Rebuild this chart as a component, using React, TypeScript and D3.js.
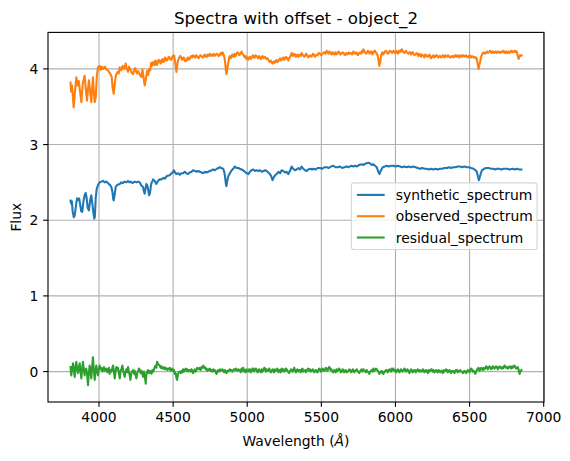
import * as d3 from "d3";

type Pt = [number, number];

// wavelength (Å), flux
const synthetic: Pt[] = [
  [3808,2.26],[3812,2.22],[3817,2.25],[3822,2.12],[3830,2.04],[3836,2.06],[3845,2.20],[3852,2.29],[3860,2.27],[3866,2.29],
  [3872,2.22],[3880,2.12],[3887,2.11],[3895,2.25],[3903,2.33],[3910,2.36],[3916,2.30],[3924,2.16],[3932,2.13],[3940,2.26],
  [3948,2.33],[3955,2.22],[3962,2.10],[3968,2.02],[3972,2.05],[3978,2.30],[3985,2.42],[3995,2.47],[4004,2.50],[4015,2.51],
  [4027,2.52],[4040,2.50],[4050,2.51],[4061,2.49],[4072,2.47],[4083,2.44],[4090,2.38],[4096,2.28],[4099,2.26],[4104,2.32],
  [4113,2.44],[4125,2.47],[4140,2.48],[4150,2.50],[4160,2.49],[4173,2.51],[4185,2.50],[4195,2.52],[4205,2.50],[4215,2.51],
  [4225,2.49],[4241,2.51],[4255,2.50],[4265,2.51],[4275,2.50],[4286,2.46],[4297,2.44],[4303,2.38],[4308,2.35],[4314,2.42],
  [4320,2.48],[4326,2.46],[4332,2.40],[4338,2.33],[4344,2.36],[4352,2.48],[4365,2.54],[4375,2.52],[4387,2.48],[4398,2.52],
  [4410,2.54],[4421,2.54],[4435,2.56],[4445,2.55],[4455,2.58],[4470,2.59],[4480,2.60],[4489,2.62],[4497,2.63],[4505,2.66],
  [4513,2.63],[4522,2.61],[4535,2.62],[4545,2.60],[4556,2.62],[4568,2.62],[4579,2.64],[4590,2.62],[4600,2.61],[4612,2.63],
  [4625,2.64],[4635,2.66],[4648,2.65],[4660,2.64],[4670,2.65],[4680,2.64],[4692,2.63],[4703,2.62],[4715,2.64],[4725,2.63],
  [4736,2.64],[4748,2.65],[4760,2.66],[4770,2.67],[4782,2.66],[4795,2.68],[4805,2.69],[4815,2.70],[4825,2.69],[4838,2.68],
  [4845,2.64],[4850,2.58],[4856,2.48],[4860,2.45],[4865,2.52],[4872,2.58],[4883,2.62],[4895,2.66],[4905,2.68],[4917,2.71],
  [4928,2.69],[4940,2.69],[4950,2.68],[4962,2.67],[4972,2.66],[4984,2.64],[4995,2.62],[5007,2.61],[5018,2.64],[5028,2.66],
  [5040,2.67],[5052,2.65],[5063,2.66],[5075,2.65],[5086,2.66],[5098,2.64],[5110,2.65],[5120,2.66],[5131,2.65],[5142,2.63],
  [5153,2.61],[5162,2.58],[5171,2.53],[5180,2.57],[5190,2.60],[5198,2.61],[5210,2.64],[5222,2.62],[5232,2.66],[5243,2.65],
  [5255,2.63],[5266,2.64],[5277,2.61],[5288,2.65],[5300,2.71],[5310,2.68],[5322,2.66],[5333,2.67],[5345,2.69],[5356,2.67],
  [5367,2.71],[5378,2.68],[5390,2.66],[5401,2.65],[5412,2.67],[5425,2.68],[5437,2.67],[5446,2.68],[5460,2.67],[5475,2.69],
  [5491,2.69],[5505,2.68],[5520,2.70],[5536,2.70],[5550,2.69],[5565,2.71],[5581,2.72],[5595,2.70],[5610,2.70],[5625,2.71],
  [5640,2.69],[5655,2.70],[5671,2.71],[5685,2.70],[5700,2.72],[5715,2.71],[5727,2.72],[5740,2.71],[5755,2.73],[5772,2.74],
  [5785,2.73],[5800,2.75],[5817,2.76],[5830,2.75],[5840,2.73],[5851,2.74],[5862,2.72],[5874,2.70],[5882,2.65],[5892,2.61],
  [5900,2.65],[5914,2.70],[5928,2.71],[5941,2.72],[5955,2.71],[5970,2.72],[5986,2.72],[6000,2.71],[6015,2.72],[6031,2.71],
  [6045,2.70],[6060,2.71],[6076,2.70],[6090,2.71],[6105,2.70],[6121,2.71],[6135,2.70],[6150,2.69],[6166,2.68],[6180,2.69],
  [6195,2.68],[6210,2.68],[6225,2.67],[6240,2.68],[6256,2.67],[6270,2.68],[6285,2.67],[6300,2.68],[6315,2.68],[6330,2.69],
  [6347,2.69],[6360,2.70],[6375,2.69],[6390,2.70],[6405,2.70],[6420,2.71],[6437,2.71],[6450,2.70],[6465,2.71],[6482,2.70],
  [6495,2.70],[6510,2.69],[6527,2.68],[6540,2.66],[6549,2.64],[6556,2.58],[6563,2.53],[6570,2.58],[6583,2.66],[6598,2.68],
  [6612,2.69],[6628,2.69],[6645,2.68],[6660,2.68],[6672,2.67],[6684,2.68],[6700,2.68],[6715,2.67],[6730,2.68],[6752,2.68],
  [6770,2.67],[6790,2.68],[6805,2.67],[6819,2.68],[6835,2.67],[6850,2.67],
];

const observed: Pt[] = [
  [3808,3.82],[3812,3.70],[3818,3.78],[3829,3.49],[3838,3.70],[3847,3.89],[3855,3.78],[3863,3.84],[3872,3.70],[3881,3.56],
  [3890,3.80],[3903,3.91],[3910,3.75],[3919,3.58],[3925,3.72],[3932,3.85],[3940,3.70],[3948,3.56],[3954,3.75],[3959,3.89],
  [3965,3.70],[3971,3.56],[3978,3.62],[3985,3.90],[3993,4.02],[4004,4.04],[4012,3.99],[4020,4.03],[4030,4.00],[4040,4.03],
  [4050,3.99],[4061,3.98],[4070,3.95],[4077,3.93],[4085,3.90],[4092,3.75],[4099,3.67],[4106,3.80],[4115,3.92],[4125,3.96],
  [4133,3.94],[4140,4.02],[4150,3.98],[4160,4.04],[4170,4.00],[4180,4.07],[4188,4.00],[4196,3.96],[4203,4.03],[4210,4.00],
  [4220,3.95],[4230,3.93],[4238,3.99],[4245,4.01],[4255,3.94],[4265,3.97],[4275,3.92],[4286,3.89],[4293,3.99],[4300,3.90],
  [4308,3.78],[4315,3.85],[4324,3.97],[4332,3.92],[4338,4.00],[4345,3.98],[4352,4.08],[4358,4.04],[4365,4.09],[4370,4.06],
  [4375,4.05],[4380,4.11],[4385,4.10],[4390,4.05],[4395,4.07],[4402,4.12],[4410,4.11],[4415,4.07],[4420,4.08],[4425,4.12],
  [4430,4.13],[4435,4.09],[4440,4.10],[4445,4.15],[4450,4.14],[4456,4.11],[4462,4.12],[4470,4.16],[4477,4.15],[4483,4.12],
  [4490,4.13],[4495,4.16],[4500,4.17],[4507,4.18],[4514,4.08],[4522,3.96],[4530,4.08],[4535,4.12],[4540,4.14],[4548,4.17],
  [4556,4.15],[4560,4.12],[4565,4.12],[4570,4.15],[4575,4.14],[4582,4.10],[4590,4.11],[4595,4.14],[4600,4.15],[4606,4.12],
  [4612,4.13],[4617,4.16],[4622,4.17],[4628,4.15],[4635,4.18],[4641,4.16],[4648,4.15],[4654,4.18],[4660,4.17],[4666,4.15],
  [4672,4.14],[4678,4.17],[4685,4.18],[4694,4.16],[4703,4.15],[4709,4.18],[4715,4.19],[4721,4.16],[4728,4.16],[4733,4.19],
  [4738,4.19],[4743,4.17],[4748,4.20],[4754,4.18],[4760,4.17],[4766,4.19],[4772,4.20],[4778,4.17],[4785,4.18],[4792,4.20],
  [4800,4.19],[4808,4.17],[4815,4.18],[4820,4.21],[4825,4.20],[4829,4.19],[4833,4.22],[4838,4.20],[4842,4.18],[4846,4.15],
  [4850,4.10],[4856,3.98],[4860,3.93],[4866,4.00],[4870,4.06],[4874,4.10],[4878,4.15],
  [4883,4.17],[4888,4.14],[4894,4.15],[4899,4.19],[4905,4.18],[4910,4.16],[4915,4.20],[4921,4.17],[4928,4.20],[4934,4.22],
  [4940,4.21],[4945,4.18],[4950,4.19],[4956,4.21],[4962,4.23],[4967,4.20],[4972,4.19],[4978,4.17],[4984,4.15],[4990,4.17],
  [4995,4.13],[5001,4.15],[5007,4.12],[5012,4.15],[5018,4.16],[5023,4.13],[5028,4.14],[5034,4.17],[5040,4.18],[5046,4.15],
  [5052,4.15],[5057,4.18],[5063,4.17],[5069,4.15],[5075,4.14],[5080,4.17],[5086,4.15],[5092,4.13],[5098,4.16],[5104,4.17],
  [5110,4.14],[5115,4.15],[5120,4.16],[5126,4.14],[5131,4.13],[5137,4.14],[5142,4.12],[5148,4.10],[5153,4.09],[5158,4.11],
  [5162,4.10],[5167,4.08],[5171,4.07],[5176,4.09],[5180,4.10],[5185,4.08],[5190,4.09],[5194,4.11],[5198,4.12],[5204,4.09],
  [5210,4.10],[5216,4.12],[5222,4.14],[5227,4.11],[5232,4.12],[5238,4.14],[5243,4.15],[5249,4.12],[5255,4.13],[5260,4.16],
  [5266,4.15],[5271,4.13],[5277,4.11],[5282,4.14],[5288,4.15],[5294,4.18],[5300,4.21],[5305,4.18],[5310,4.17],[5316,4.20],
  [5322,4.19],[5328,4.16],[5333,4.18],[5339,4.19],[5345,4.16],[5350,4.18],[5356,4.19],[5362,4.17],[5367,4.21],[5372,4.19],
  [5378,4.18],[5384,4.16],[5390,4.17],[5396,4.20],[5401,4.19],[5406,4.17],[5412,4.15],[5418,4.17],[5425,4.18],[5431,4.16],
  [5437,4.17],[5443,4.20],[5450,4.19],[5456,4.16],[5462,4.17],[5468,4.19],[5475,4.18],[5483,4.21],[5491,4.20],[5498,4.18],
  [5505,4.19],[5512,4.21],[5520,4.22],[5528,4.20],[5536,4.24],[5542,4.22],[5548,4.20],[5554,4.23],[5560,4.22],[5565,4.20],
  [5570,4.19],[5576,4.22],[5581,4.20],[5588,4.19],[5595,4.22],[5601,4.19],[5608,4.20],[5615,4.23],[5622,4.22],[5629,4.19],
  [5636,4.20],[5643,4.22],[5650,4.21],[5656,4.19],[5662,4.18],[5667,4.21],[5671,4.20],[5678,4.19],[5685,4.22],[5692,4.20],
  [5700,4.21],[5708,4.19],[5716,4.23],[5722,4.21],[5728,4.20],[5734,4.22],[5740,4.21],[5745,4.18],[5750,4.19],[5756,4.21],
  [5762,4.22],[5768,4.20],[5775,4.24],[5780,4.22],[5784,4.26],[5790,4.23],[5795,4.22],[5801,4.20],[5808,4.21],[5814,4.24],
  [5820,4.23],[5825,4.20],[5829,4.22],[5835,4.23],[5840,4.21],[5845,4.19],[5850,4.23],[5856,4.22],[5862,4.24],[5867,4.22],
  [5872,4.21],[5876,4.19],[5880,4.18],[5885,4.12],[5891,4.04],[5897,4.08],[5903,4.18],[5908,4.20],[5912,4.22],[5918,4.19],
  [5925,4.21],[5933,4.24],[5941,4.23],[5948,4.20],[5955,4.21],[5962,4.24],[5970,4.23],[5978,4.21],[5986,4.24],[5992,4.22],
  [5998,4.21],[6004,4.24],[6010,4.22],[6016,4.20],[6022,4.24],[6028,4.22],[6035,4.25],[6040,4.23],[6043,4.26],[6049,4.24],
  [6055,4.23],[6060,4.21],[6066,4.22],[6071,4.24],[6076,4.22],[6082,4.21],[6088,4.20],[6094,4.22],[6100,4.22],[6106,4.19],
  [6112,4.21],[6117,4.22],[6121,4.20],[6128,4.18],[6135,4.19],[6142,4.21],[6148,4.20],[6153,4.17],[6158,4.18],[6162,4.20],
  [6166,4.18],[6172,4.16],[6178,4.19],[6184,4.18],[6190,4.17],[6195,4.15],[6200,4.19],[6206,4.17],[6212,4.18],[6218,4.16],
  [6225,4.17],[6230,4.19],[6235,4.16],[6240,4.14],[6245,4.15],[6250,4.17],[6256,4.18],[6262,4.15],[6268,4.16],[6273,4.18],
  [6279,4.18],[6285,4.16],[6290,4.15],[6296,4.17],[6302,4.17],[6308,4.15],[6314,4.16],[6319,4.18],[6324,4.17],[6330,4.15],
  [6336,4.18],[6342,4.17],[6348,4.16],[6354,4.18],[6360,4.17],[6366,4.15],[6372,4.15],[6378,4.17],[6384,4.17],[6390,4.15],
  [6395,4.16],[6400,4.18],[6405,4.18],[6410,4.16],[6414,4.17],[6420,4.18],[6425,4.16],[6431,4.15],[6437,4.18],[6443,4.17],
  [6448,4.16],[6453,4.18],[6459,4.18],[6465,4.16],[6470,4.17],[6476,4.18],[6482,4.16],[6488,4.15],[6494,4.17],[6500,4.18],
  [6505,4.16],[6510,4.15],[6516,4.17],[6522,4.16],[6527,4.15],[6533,4.16],[6540,4.14],[6545,4.15],[6549,4.13],[6555,4.06],
  [6561,4.00],[6566,4.05],[6572,4.10],[6576,4.14],[6580,4.17],[6587,4.20],[6594,4.22],[6600,4.21],[6605,4.20],[6612,4.22],
  [6618,4.23],[6623,4.21],[6628,4.22],[6634,4.23],[6639,4.24],[6645,4.22],[6650,4.21],[6656,4.23],[6662,4.23],[6667,4.21],
  [6672,4.22],[6678,4.23],[6684,4.21],[6690,4.22],[6695,4.23],[6700,4.22],[6706,4.21],[6712,4.23],[6718,4.22],[6724,4.23],
  [6729,4.24],[6735,4.21],[6740,4.22],[6746,4.23],[6752,4.21],[6757,4.22],[6762,4.23],[6768,4.21],[6775,4.22],[6780,4.24],
  [6785,4.24],[6790,4.22],[6796,4.22],[6802,4.24],[6808,4.24],[6813,4.22],[6818,4.23],[6821,4.21],[6824,4.18],[6828,4.15],
  [6831,4.13],[6836,4.16],[6840,4.18],[6845,4.17],[6850,4.18],
];

const residual: Pt[] = [
  [3808,0.06],[3810,0.00],[3813,-0.05],[3819,0.04],[3825,0.11],[3830,0.03],[3836,-0.07],[3841,0.05],[3847,0.13],[3852,0.04],
  [3858,-0.02],[3864,0.06],[3870,0.11],[3875,0.00],[3881,-0.09],[3886,0.03],[3892,0.13],[3897,0.04],[3903,-0.05],[3908,0.02],
  [3914,0.04],[3920,-0.04],[3926,-0.18],[3931,-0.02],[3937,0.08],[3942,0.01],[3948,-0.09],[3953,0.05],[3959,0.19],[3965,0.03],
  [3971,-0.11],[3976,0.00],[3982,0.08],[3987,0.01],[3993,-0.05],[3998,0.02],[4004,0.08],[4010,0.03],[4016,0.05],[4022,0.00],
  [4027,0.02],[4033,0.06],[4039,0.01],[4045,0.03],[4050,0.04],[4056,-0.01],[4061,0.02],[4067,0.05],[4072,-0.03],[4078,0.02],
  [4084,0.00],[4090,0.05],[4095,0.08],[4100,0.01],[4106,-0.09],[4112,0.00],[4117,0.06],[4122,0.03],[4128,0.05],[4134,-0.02],
  [4140,-0.09],[4146,0.01],[4152,0.04],[4158,0.08],[4163,0.01],[4168,-0.03],[4173,-0.07],[4179,0.00],[4185,0.03],[4190,-0.01],
  [4196,0.06],[4201,0.00],[4207,-0.05],[4212,-0.11],[4218,-0.02],[4224,0.00],[4230,0.02],[4236,-0.03],[4241,0.01],[4247,-0.05],
  [4252,-0.09],[4258,-0.02],[4264,0.01],[4270,0.04],[4275,0.02],[4281,-0.02],[4286,0.01],[4292,-0.03],[4297,-0.07],[4303,0.00],
  [4309,-0.05],[4315,-0.16],[4320,-0.03],[4325,0.00],[4331,0.02],[4337,-0.02],[4343,0.01],[4349,-0.01],[4354,-0.03],[4360,0.02],
  [4366,0.00],[4371,0.03],[4376,0.06],[4382,0.08],[4387,0.05],[4392,0.13],[4398,0.10],[4404,0.09],[4410,0.08],[4416,0.05],
  [4421,0.07],[4427,0.04],[4432,0.04],[4438,0.06],[4444,0.03],[4450,0.05],[4455,0.04],[4461,0.02],[4467,0.04],[4472,0.03],
  [4478,0.05],[4483,0.01],[4489,0.02],[4495,0.04],[4500,0.01],[4506,0.02],[4511,-0.03],[4517,-0.02],[4522,-0.08],[4527,-0.11],
  [4533,-0.03],[4539,-0.01],[4545,0.00],[4551,-0.02],[4557,0.01],[4562,-0.01],[4568,0.03],[4574,0.00],[4579,0.02],[4585,0.04],
  [4591,0.01],[4596,0.03],[4602,0.00],[4608,0.02],[4613,0.02],[4619,0.00],[4624,0.03],[4630,0.01],[4635,-0.02],[4641,0.01],
  [4647,0.03],[4652,0.00],[4658,0.02],[4663,0.05],[4669,0.04],[4675,0.03],[4680,0.05],[4686,0.02],[4692,0.06],[4697,0.05],
  [4703,0.08],[4709,0.05],[4714,0.06],[4720,0.03],[4725,0.04],[4731,0.01],[4737,0.03],[4742,0.02],[4748,0.04],[4754,0.01],
  [4759,0.02],[4765,0.00],[4771,0.03],[4776,0.01],[4782,0.02],[4787,-0.01],[4793,-0.03],[4799,0.01],[4805,0.02],[4810,0.00],
  [4816,0.03],[4821,0.01],[4827,0.02],[4833,0.03],[4838,0.01],[4844,-0.01],[4850,0.02],[4855,0.00],[4860,-0.02],[4866,0.01],
  [4871,0.00],[4877,0.02],[4883,0.03],[4888,0.01],[4894,0.02],[4900,0.00],[4905,0.01],[4911,0.03],[4917,0.02],[4922,0.04],
  [4928,0.02],[4934,0.01],[4939,0.03],[4945,0.02],
  [4950,0.02],[4956,-0.01],[4962,0.04],[4967,0.01],[4973,0.05],[4979,0.00],[4985,0.02],[4990,-0.01],[4995,0.03],[5001,0.01],
  [5007,0.00],[5012,0.03],[5018,0.03],[5024,-0.01],[5030,0.01],[5035,0.04],[5041,0.04],[5046,0.00],[5052,0.02],[5057,0.04],
  [5063,0.03],[5069,-0.01],[5075,0.00],[5080,0.03],[5086,0.01],[5092,-0.01],[5098,0.03],[5104,0.00],[5110,0.02],[5115,0.05],
  [5120,0.04],[5126,0.00],[5131,0.03],[5137,0.01],[5142,0.01],[5148,0.04],[5153,0.02],[5159,-0.01],[5164,0.00],[5170,0.03],
  [5175,0.02],[5181,-0.01],[5186,0.03],[5192,0.01],[5198,0.02],[5204,0.04],[5210,-0.01],[5215,0.01],[5220,0.02],[5226,-0.01],
  [5232,0.04],[5238,0.01],[5243,0.03],[5249,0.00],[5255,0.01],[5260,0.04],[5266,0.03],[5272,0.00],[5277,0.00],[5283,-0.02],
  [5288,0.00],[5294,0.03],[5300,0.02],[5306,0.00],[5312,0.03],[5317,0.05],[5322,0.01],[5328,-0.01],[5333,0.02],[5339,0.03],
  [5345,0.00],[5350,0.02],[5356,0.02],[5362,-0.01],[5367,0.03],[5373,0.04],[5378,0.00],[5384,0.01],[5390,0.02],[5396,-0.01],
  [5401,0.01],[5407,0.03],[5412,0.04],[5418,0.01],[5423,0.03],[5429,0.00],[5435,0.01],[5441,0.03],[5446,0.02],[5452,-0.01],
  [5457,0.00],[5463,0.02],[5468,0.00],[5474,-0.01],[5480,0.02],[5486,0.04],[5491,0.03],[5497,0.00],[5502,0.01],[5508,0.04],
  [5513,0.03],[5519,0.01],[5524,0.02],[5530,0.05],[5535,0.04],[5541,0.01],[5547,0.03],[5552,0.06],[5558,0.05],[5563,0.02],
  [5568,0.03],[5575,0.00],[5581,-0.01],[5587,0.02],[5592,0.01],[5598,-0.01],[5603,0.03],[5609,0.01],[5615,0.02],[5620,0.04],
  [5626,0.02],[5632,-0.01],[5637,0.00],[5643,0.03],[5648,0.02],[5654,-0.01],[5660,0.01],[5665,0.02],[5671,-0.01],[5677,0.00],
  [5682,0.01],[5688,0.03],[5694,0.02],[5700,-0.01],[5705,0.00],[5711,0.03],[5716,0.02],[5722,-0.01],[5728,0.01],[5734,0.02],
  [5740,0.03],[5745,0.00],[5750,0.00],[5756,-0.02],[5761,0.00],[5767,0.02],[5772,0.03],[5778,0.00],[5784,0.03],[5790,0.01],
  [5795,0.01],[5801,-0.01],[5806,0.02],[5812,0.00],[5818,-0.01],[5824,-0.03],[5829,0.00],[5835,0.01],[5840,0.02],[5846,0.00],
  [5851,0.04],[5857,0.01],[5862,0.02],[5868,0.04],[5874,0.03],[5880,0.01],[5885,0.00],[5891,-0.03],[5896,-0.02],[5902,0.00],
  [5908,0.01],[5913,-0.02],[5919,-0.03],[5925,0.00],[5930,0.00],[5936,0.02],[5942,0.02],[5947,-0.01],[5953,0.01],[5959,0.03],
  [5964,0.02],[5970,0.00],[5975,0.04],[5981,0.02],[5986,0.04],[5992,0.01],[5998,0.02],[6004,-0.01],[6009,0.01],[6015,0.03],
  [6020,0.02],[6026,-0.01],[6031,0.00],[6037,0.03],[6042,0.02],[6048,0.00],[6054,0.01],[6060,0.04],[6065,0.03],[6071,0.00],
  [6076,0.02],[6082,0.03],[6088,0.00],[6094,-0.02],[6099,0.01],[6105,0.03],[6110,0.02],[6116,-0.01],[6121,0.00],[6127,0.02],
  [6132,0.02],[6138,-0.01],[6144,0.01],[6150,0.03],[6155,0.02],[6161,0.00],[6166,0.02],[6172,0.00],[6178,0.00],[6184,0.03],
  [6189,0.02],[6195,-0.01],[6200,0.01],[6206,0.02],[6212,0.00],[6218,-0.02],[6223,0.02],[6229,0.00],[6234,0.01],[6240,0.03],
  [6245,0.03],[6251,0.00],[6257,0.02],[6263,-0.01],[6268,0.00],[6274,0.02],[6280,0.01],[6285,-0.01],[6291,0.02],[6297,0.00],
  [6302,-0.01],[6308,0.01],[6313,0.01],[6319,-0.02],[6325,0.02],[6330,0.00],[6336,0.01],[6342,0.03],[6347,0.02],[6353,-0.01],
  [6358,0.00],[6364,0.02],[6370,0.01],[6375,-0.02],[6381,0.00],[6387,0.01],[6392,0.00],[6398,-0.02],[6403,0.01],[6409,0.02],
  [6415,0.02],[6420,-0.01],[6426,0.01],[6432,0.00],[6437,0.02],[6443,0.00],[6448,0.00],[6454,-0.02],[6460,-0.01],[6465,0.01],
  [6471,0.00],[6477,-0.02],[6482,0.00],[6488,0.02],[6493,0.01],[6499,-0.01],[6505,0.02],[6510,0.04],[6516,0.03],[6522,0.00],
  [6527,0.01],[6533,-0.01],[6538,-0.03],[6544,0.00],[6549,0.02],[6555,0.04],[6561,0.05],[6566,0.01],[6572,0.02],[6578,0.05],
  [6583,0.04],[6589,0.02],[6595,0.05],[6600,0.03],[6606,0.04],[6612,0.07],[6617,0.06],[6623,0.03],[6628,0.05],[6634,0.07],
  [6640,0.06],[6645,0.03],[6651,0.04],[6657,0.07],[6662,0.06],[6668,0.04],[6673,0.05],[6679,0.07],[6685,0.06],[6690,0.03],
  [6696,0.05],[6702,0.07],[6707,0.05],[6713,0.04],[6718,0.06],[6724,0.04],[6730,0.05],[6735,0.08],[6741,0.07],[6747,0.05],
  [6752,0.06],[6758,0.04],[6763,0.05],[6769,0.07],[6775,0.06],[6780,0.04],[6786,0.07],[6792,0.05],[6797,0.07],[6803,0.08],
  [6808,0.06],[6814,0.04],[6820,0.05],[6825,0.06],[6830,0.03],[6834,-0.01],[6838,-0.03],[6842,0.00],[6846,0.01],[6850,0.02],
];

const seriesNames = ["synthetic_spectrum", "observed_spectrum", "residual_spectrum"];
const seriesColors = ["#1f77b4", "#ff7f0e", "#2ca02c"];
const xTicks = [4000, 4500, 5000, 5500, 6000, 6500, 7000];
const yTicks = [0, 1, 2, 3, 4];

const W = 570;
const H = 461;
const plot = { left: 48, right: 544, top: 32.4, bottom: 402 };
const FS = 13.89; // 10pt
const FONT = "DejaVu Sans, sans-serif";

export default function App() {
  const series = [synthetic, observed, residual];
  const flat = series.flat();

  // matplotlib style 5% autoscale margins
  const [xa, xb] = d3.extent(flat, (d) => d[0]) as [number, number];
  const [ya, yb] = d3.extent(flat, (d) => d[1]) as [number, number];
  const xm = (xb - xa) * 0.05;
  const ym = (yb - ya) * 0.05;

  const x = d3.scaleLinear().domain([xa - xm, xb + xm]).range([plot.left, plot.right]);
  const y = d3.scaleLinear().domain([ya - ym, yb + ym]).range([plot.bottom, plot.top]);

  const line = d3
    .line<Pt>()
    .x((d) => x(d[0]))
    .y((d) => y(d[1]));

  const tickLen = 4.86;
  const pad = 4.86;

  // legend, "center right"
  const legW = 185.7;
  const legRowGap = 21.3;
  const legRight = plot.right - 6.95;
  const legLeft = legRight - legW;
  const legCy = (plot.top + plot.bottom) / 2 - 1;
  const legH = 66.7;

  return (
    <svg
      width={W}
      height={H}
      style={{ position: "absolute", left: 0, top: 0, background: "#fff" }}
      fontFamily={FONT}
    >
      <rect x={0} y={0} width={W} height={H} fill="#fff" />

      {/* grid */}
      <g stroke="#b0b0b0" strokeWidth={1.11}>
        {xTicks.map((t) => (
          <line key={"gx" + t} x1={x(t)} x2={x(t)} y1={plot.top} y2={plot.bottom} />
        ))}
        {yTicks.map((t) => (
          <line key={"gy" + t} x1={plot.left} x2={plot.right} y1={y(t)} y2={y(t)} />
        ))}
      </g>

      {/* series */}
      {series.map((s, i) => (
        <path
          key={seriesNames[i]}
          d={line(s) ?? ""}
          fill="none"
          stroke={seriesColors[i]}
          strokeWidth={2.08}
          strokeLinejoin="round"
          strokeLinecap="square"
        />
      ))}

      {/* spines */}
      <rect
        x={plot.left}
        y={plot.top}
        width={plot.right - plot.left}
        height={plot.bottom - plot.top}
        fill="none"
        stroke="#000"
        strokeWidth={1.11}
      />

      {/* x ticks */}
      <g fontSize={FS} fill="#000" textAnchor="middle">
        {xTicks.map((t) => (
          <g key={"xt" + t}>
            <line x1={x(t)} x2={x(t)} y1={plot.bottom} y2={plot.bottom + tickLen} stroke="#000" strokeWidth={1.11} />
            <text x={x(t)} y={plot.bottom + tickLen + pad + 10.3}>
              {t}
            </text>
          </g>
        ))}
      </g>

      {/* y ticks */}
      <g fontSize={FS} fill="#000" textAnchor="end">
        {yTicks.map((t) => (
          <g key={"yt" + t}>
            <line x1={plot.left - tickLen} x2={plot.left} y1={y(t)} y2={y(t)} stroke="#000" strokeWidth={1.11} />
            <text x={plot.left - tickLen - pad} y={y(t) + 5.1}>
              {t}
            </text>
          </g>
        ))}
      </g>

      {/* labels */}
      <text x={(plot.left + plot.right) / 2} y={24} fontSize={16.67} textAnchor="middle">
        Spectra with offset - object_2
      </text>
      <text x={(plot.left + plot.right) / 2} y={445.5} fontSize={FS} textAnchor="middle">
        Wavelength (<tspan fontStyle="italic">Å</tspan>)
      </text>
      <text
        transform={`translate(20.6,${(plot.top + plot.bottom) / 2}) rotate(-90)`}
        fontSize={FS}
        textAnchor="middle"
      >
        Flux
      </text>

      {/* legend */}
      <g>
        <rect
          x={legLeft}
          y={legCy - legH / 2}
          width={legW}
          height={legH}
          rx={2.8}
          fill="#fff"
          fillOpacity={0.8}
          stroke="#cccccc"
          strokeOpacity={0.8}
          strokeWidth={1.11}
        />
        {seriesNames.map((name, i) => {
          const cy = legCy + (i - 1) * legRowGap;
          return (
            <g key={"lg" + name}>
              <line
                x1={legLeft + 5.56}
                x2={legLeft + 5.56 + 27.78}
                y1={cy}
                y2={cy}
                stroke={seriesColors[i]}
                strokeWidth={2.08}
              />
              <text x={legLeft + 5.56 + 27.78 + 11.11} y={cy + 5} fontSize={FS} fill="#000">
                {name}
              </text>
            </g>
          );
        })}
      </g>
    </svg>
  );
}
